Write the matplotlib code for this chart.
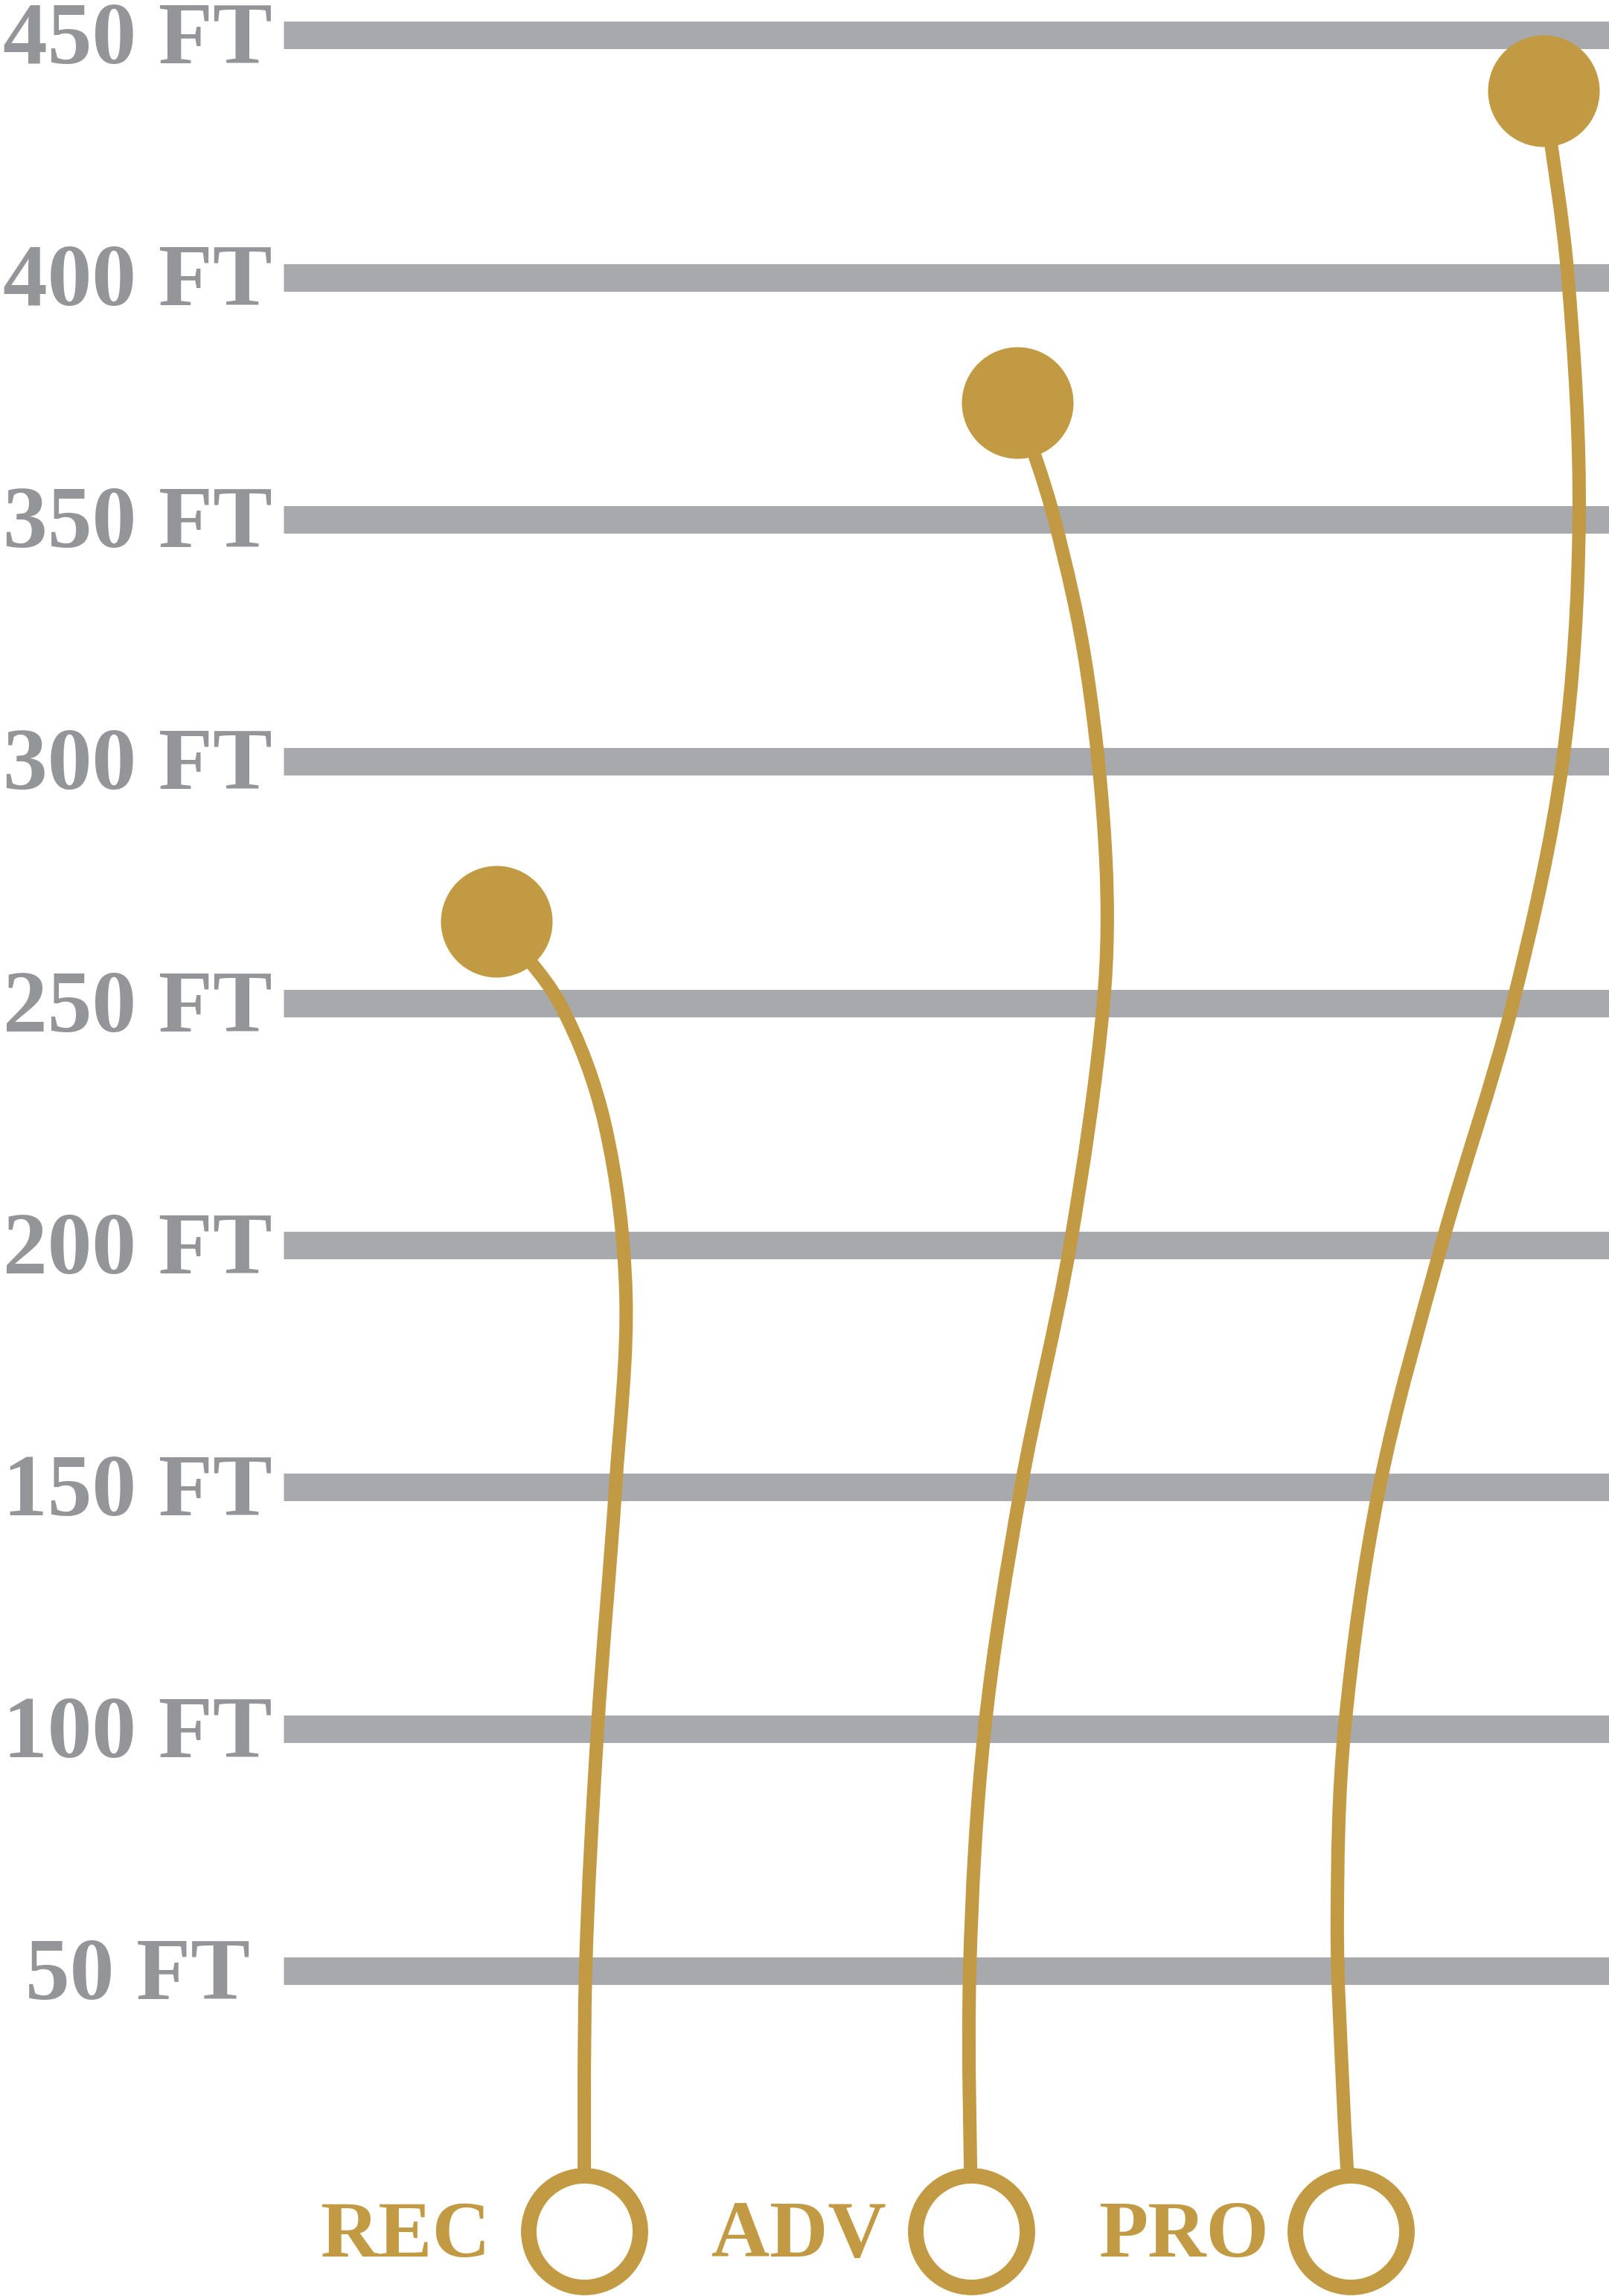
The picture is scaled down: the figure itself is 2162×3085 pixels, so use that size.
import numpy as np
import matplotlib
matplotlib.use("Agg")
from matplotlib import pyplot as plt
from matplotlib.path import Path
from matplotlib.patches import PathPatch

# distance levels (feet) for the grey rules
levels = [50, 100, 150, 200, 250, 300, 350, 400, 450]
level_labels = ["%d FT" % v for v in levels]

# the three tiers
tiers = ["REC", "ADV", "PRO"]
start_x = [1.0, 2.01, 3.0]        # hollow circle at the bottom
start_ft = [-3.8, -3.8, -3.8]
top_x = [0.771, 2.130, 3.503]     # filled circle at the top
top_ft = [266.9, 374.1, 438.6]
label_x = [0.534, 1.561, 2.565]

# traced paths of the flight lines (x in lane units, y in feet)
rec_x = [1.0, 1.004, 1.035, 1.082, 1.109, 1.054, 0.936, 0.771]
rec_ft = [-3.8, 50.0, 100.0, 150.0, 190.0, 225.0, 250.0, 266.9]

adv_x = [2.01, 2.006, 2.045, 2.140, 2.268, 2.355, 2.361, 2.311, 2.227, 2.130]
adv_ft = [-3.8, 50.0, 100.0, 150.0, 200.0, 250.0, 280.0, 319.0, 350.0, 374.1]

pro_x = [3.0, 2.980, 2.965, 2.984, 3.075, 3.237, 3.423, 3.553, 3.596, 3.567, 3.503]
pro_ft = [-3.8, 25.0, 60.0, 100.0, 150.0, 200.0, 250.0, 300.0, 350.0, 400.0, 438.6]

GOLD = "#c19a43"
RULE = "#a7a9ac"
TEXT = "#939598"

# rough size of one data unit on the page, so the smoothing works on true shape
SX, SY = 515.0, 6.502


def smooth_path(xs, ys):
    # chord-length catmull-rom through the traced points, drawn as bezier segments
    p = np.column_stack([np.asarray(xs) * SX, np.asarray(ys) * SY])
    n = len(p)
    t = np.concatenate([[0], np.cumsum(np.hypot(*np.diff(p, axis=0).T))])
    m = np.zeros_like(p)
    m[0] = (p[1] - p[0]) / (t[1] - t[0])
    m[-1] = (p[-1] - p[-2]) / (t[-1] - t[-2])
    for i in range(1, n - 1):
        m[i] = (p[i + 1] - p[i - 1]) / (t[i + 1] - t[i - 1])
    verts = [p[0]]
    codes = [Path.MOVETO]
    for i in range(n - 1):
        h = t[i + 1] - t[i]
        verts += [p[i] + m[i] * h / 3, p[i + 1] - m[i + 1] * h / 3, p[i + 1]]
        codes += [Path.CURVE4] * 3
    verts = np.array(verts) / [SX, SY]
    return Path(verts, codes)


fig = plt.figure(figsize=(21.62, 30.85), dpi=100)
ax = fig.add_axes([0, 0, 1, 1])
ax.set_xlim(-0.524, 3.674)
ax.set_ylim(-17.13, 457.3)
ax.axis("off")

# grey rules + labels
ax.hlines(levels, 0.2155, 4.0, color=RULE, lw=26.6, capstyle="butt", zorder=1)
for v, lab in zip(levels, level_labels):
    ax.text(-0.165, v - 1.4, lab, ha="center", va="center", fontsize=86,
            color=TEXT, family="Liberation Serif", weight="bold")

# flight lines
for xs, ys in [(rec_x, rec_ft), (adv_x, adv_ft), (pro_x, pro_ft)]:
    patch = PathPatch(smooth_path(xs, ys), fill=False, edgecolor=GOLD, lw=13,
                      capstyle="butt", zorder=2)
    ax.add_patch(patch)

# end points
ax.plot(top_x, top_ft, "o", ms=108, color=GOLD, mec="none", ls="none", zorder=3)
ax.plot(start_x, start_ft, "o", ms=108, mfc="white", mec=GOLD, mew=15,
        ls="none", zorder=3)

for x, name in zip(label_x, tiers):
    ax.text(x, -5.0, name, ha="center", va="center", fontsize=78,
            color=GOLD, family="Liberation Serif", weight="bold")

fig.savefig("out.png", dpi=100)
